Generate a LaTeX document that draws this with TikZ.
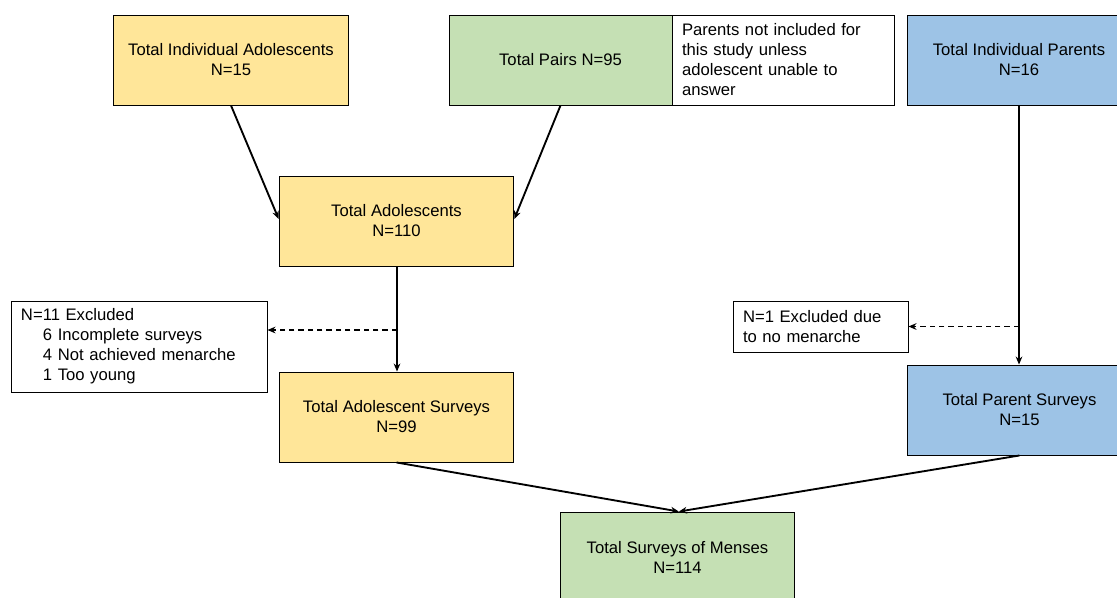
\documentclass[tikz,border=0pt]{standalone}
\usepackage{fontspec}
\setmainfont{Liberation Sans}
\usetikzlibrary{positioning}
\usetikzlibrary{arrows.meta}
\definecolor{adolfill}{HTML}{FFE699}
\definecolor{pairfill}{HTML}{C5E0B4}
\definecolor{parfill}{HTML}{9DC3E6}
\tikzset{>={Stealth[length=6pt,width=5pt]}}
\tikzset{box/.style={draw, line width=0.7pt, minimum height=67.5pt, inner sep=0pt, align=center,
      font=\fontsize{12.5}{15}\selectfont}}
\tikzset{adol/.style={box, fill=adolfill, minimum width=176pt}}
\tikzset{pair/.style={box, fill=pairfill}}
\tikzset{par/.style={box, fill=parfill, minimum width=168pt}}
\tikzset{notebox/.style={box, fill=white, align=left, inner xsep=7.5pt}}
\tikzset{flow/.style={->, line width=1.4pt}}
\tikzset{skip/.style={->, line width=1pt, dashed, dash pattern=on 4pt off 3pt}}

\begin{document}
\begin{tikzpicture}[x=0.75pt, y=-0.75pt]
\clip (0,0) rectangle (1117,597);
\fill[white] (0,0) rectangle (1117,597);

\node[adol] (ia) at (231,60) {Total Individual Adolescents\\N=15};
\node[pair, minimum width=167.25pt] (pairs) at (560.5,60) {Total Pairs N=95};
\node[notebox, minimum width=166.5pt, text width=151.5pt] (note) at (783,60)
  {Parents not included for\\this study unless\\adolescent unable to\\answer};
\node[par] (ip) at (1019,60) {Total Individual Parents\\N=16};

\node[adol] (ta) at (396.5,221) {Total Adolescents\\N=110};
\node[adol] (tas) at (396.5,417) {Total Adolescent Surveys\\N=99};

\node[notebox, minimum width=192pt, text width=177pt, minimum height=68.25pt] (excl) at (139,346.5)
  {N=11 Excluded\\
   \hspace*{16.5pt}6 Incomplete surveys\\
   \hspace*{16.5pt}4 Not achieved menarche\\
   \hspace*{16.5pt}1 Too young};
\node[notebox, minimum width=131.25pt, text width=116.25pt, minimum height=38.25pt] (ex1) at (820.5,326.5)
  {N=1 Excluded due\\to no menarche};

\node[par] (tps) at (1019.5,410) {Total Parent Surveys\\N=15};
\node[pair, minimum width=176pt] (tsm) at (677.5,557) {Total Surveys of Menses\\N=114};

\coordinate (splitA) at (397,330);
\coordinate (splitP) at (1019,326.5);

\draw[flow] (ia.south) -- ([yshift=1.5pt]ta.west);
\draw[flow] (pairs.south) -- ([yshift=1.5pt]ta.east);
\draw[flow] (ta.south -| splitA) -- (tas.north -| splitA);
\draw[skip] (splitA) -- (splitA -| excl.east);
\draw[flow] (ip.south) -- (tps.north -| ip.south);
\draw[skip] (splitP) -- (ex1.east);
\draw[flow] (tas.south) -- ([xshift=1pt]tsm.north);
\draw[flow] (tps.south) -- ([xshift=1pt]tsm.north);
\end{tikzpicture}
\end{document}
